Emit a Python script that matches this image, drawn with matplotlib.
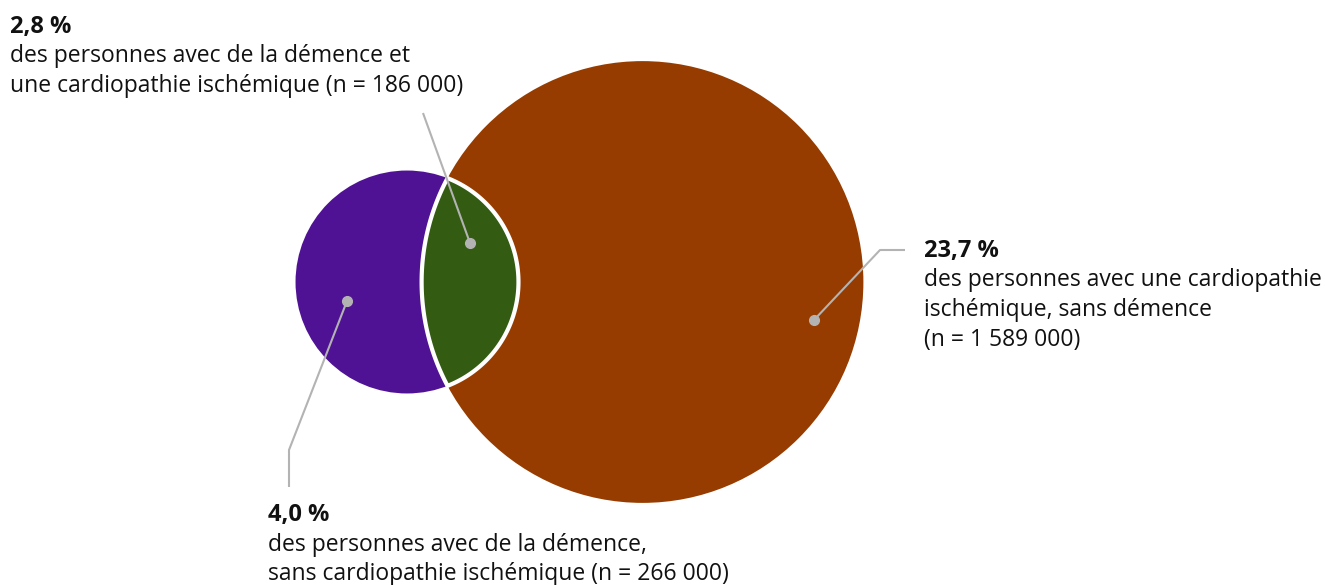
import numpy as np
import matplotlib
matplotlib.use("Agg")
import matplotlib.pyplot as plt
from matplotlib.patches import Circle, Polygon

# ---- data ----
labels_pct = ["4,0 %", "2,8 %", "23,7 %"]
labels_txt = [
    ["des personnes avec de la démence,", "sans cardiopathie ischémique (n = 266 000)"],
    ["des personnes avec de la démence et", "une cardiopathie ischémique (n = 186 000)"],
    ["des personnes avec une cardiopathie", "ischémique, sans démence", "(n = 1 589 000)"],
]
n_dementia_only = 266000
n_both = 186000
n_cardio_only = 1589000
colors = ["#501294", "#335B12", "#973C00"]

# ---- layout ----
W, H = 1325, 585
fig = plt.figure(figsize=(W / 100, H / 100), dpi=100)
ax = fig.add_axes([0, 0, 1, 1])
ax.set_xlim(0, W)
ax.set_ylim(H, 0)
ax.set_aspect("equal")
ax.axis("off")

k = 0.1658  # pixels per sqrt(person)
r1 = k * np.sqrt(n_dementia_only + n_both)
r2 = k * np.sqrt(n_cardio_only + n_both)
c1 = np.array([407.0, 282.0])
c2 = np.array([642.5, 282.0])

ax.add_patch(Circle(c1, r1, facecolor=colors[0], edgecolor="none", zorder=1))
ax.add_patch(Circle(c2, r2, facecolor=colors[2], edgecolor="none", zorder=2))

# lens (intersection)
d = c2[0] - c1[0]
a = (d**2 + r1**2 - r2**2) / (2 * d)
h = np.sqrt(r1**2 - a**2)
t1 = np.arctan2(h, a)            # angle on circle 1
t2 = np.arctan2(h, a - d)        # angle on circle 2
th1 = np.linspace(-t1, t1, 200)
arc1 = np.column_stack([c1[0] + r1 * np.cos(th1), c1[1] + r1 * np.sin(th1)])
th2 = np.linspace(t2, 2 * np.pi - t2, 300)
arc2 = np.column_stack([c2[0] + r2 * np.cos(th2), c2[1] + r2 * np.sin(th2)])
lens = np.vstack([arc1, arc2])
ax.add_patch(Polygon(lens, closed=True, facecolor=colors[1], edgecolor="white",
                     linewidth=3, joinstyle="miter", zorder=3))

# leader lines
lc = "#B3B3B3"
leaders = [
    [(347, 301), (289, 450), (289, 487)],
    [(470, 243), (423, 113)],
    [(814, 320), (880, 250), (905, 250)],
]
for pts in leaders:
    xs, ys = zip(*pts)
    ax.plot(xs, ys, color=lc, lw=1.5, zorder=4, solid_capstyle="butt")
    ax.plot(xs[0], ys[0], "o", color=lc, ms=7, zorder=5)

# text blocks
font = "Open Sans"
fs = 16.5
blocks = [(268, 521.5), (10, 33), (924, 257)]
step = 29.5
for (x, y0), pct, lines in zip(blocks, labels_pct, labels_txt):
    ax.text(x, y0, pct, fontsize=17, fontweight="bold", family=font,
            va="baseline", ha="left", color="#111111")
    for i, ln in enumerate(lines):
        ax.text(x, y0 + step * (i + 1), ln, fontsize=fs, family=font,
                va="baseline", ha="left", color="#111111")

fig.savefig("out.png", dpi=100)
